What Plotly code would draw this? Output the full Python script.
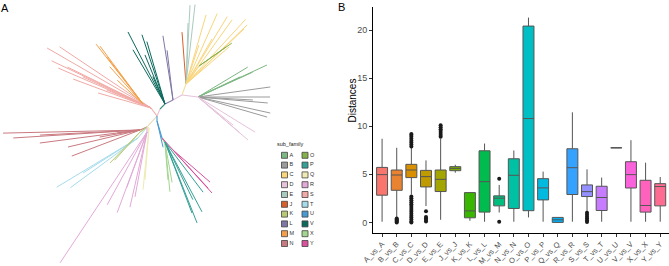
import math
import plotly.graph_objects as go

# ---------------- Panel B data (box statistics) ----------------
categories = ["A_vs_A", "B_vs_B", "C_vs_C", "D_vs_D", "E_vs_E", "J_vs_J", "K_vs_K", "L_vs_L",
              "M_vs_M", "N_vs_N", "O_vs_O", "P_vs_P", "Q_vs_Q", "R_vs_R", "S_vs_S", "T_vs_T",
              "U_vs_U", "V_vs_V", "X_vs_X", "Y_vs_Y"]
lower_whisker = [0.07, 0.52, 2.90, 1.70, 0.27, 5.17, 0.17, 0.07, 1.03, 0.07,
                 0.52, 0.07, 0.00, 0.07, 1.10, 0.07, 7.76, 0.07, 0.07, 0.07]
q1_vals = [2.83, 3.34, 4.66, 3.69, 3.21, 5.38, 0.48, 1.07, 1.72, 1.45,
           1.22, 2.34, 0.00, 2.90, 2.69, 1.24, 7.76, 3.58, 1.07, 1.72]
median_vals = [4.97, 4.93, 5.45, 4.76, 4.48, 5.62, 1.20, 4.24, 2.52, 4.90,
               10.80, 3.59, 0.27, 5.69, 3.20, 2.59, 7.76, 4.97, 1.76, 3.73]
q3_vals = [5.72, 5.45, 6.04, 5.41, 5.45, 5.80, 3.10, 7.45, 2.76, 6.62,
           20.42, 4.55, 0.52, 7.66, 3.90, 3.76, 7.76, 6.31, 4.38, 4.03]
upper_whisker = [8.70, 7.76, 7.75, 6.45, 8.70, 6.00, 3.14, 8.20, 3.90, 7.48,
                 21.30, 5.28, 0.52, 11.45, 5.52, 4.66, 7.76, 8.55, 6.21, 4.72]
outliers = {
    "B_vs_B": [0.0, 0.1, 0.2, 0.3, 0.4],
    "C_vs_C": [7.9, 8.1, 8.3, 8.5, 8.7, 8.9, 9.1, 9.2,
               2.7, 2.5, 2.3, 2.1, 1.9, 1.7, 1.5, 1.3, 1.1, 0.9, 0.7, 0.5, 0.3, 0.1, 0.0],
    "D_vs_D": [1.15, 0.55, 0.4, 0.25, 0.1],
    "E_vs_E": [8.9, 9.1, 9.3, 9.5, 9.7, 9.9, 10.1],
    "M_vs_M": [4.55, 0.07],
    "S_vs_S": [1.0, 0.8, 0.6, 0.4, 0.2, 0.05],
}
y_ticks = [0, 5, 10, 15, 20]
box_colors = ["#F8766D", "#EA8331", "#D89000", "#C09B00", "#A3A500", "#7CAE00", "#39B600",
              "#00BB4E", "#00BF7D", "#00C1A3", "#00BFC4", "#00BAE0", "#00B0F6", "#35A2FF",
              "#9590FF", "#C77CFF", "#E76BF3", "#FA62DB", "#FF62BC", "#FF6C91"]

# ---------------- Panel A data (unrooted tree layout) ----------------
sub_families = ["A", "B", "C", "D", "E", "J", "K", "L", "M", "N",
                "O", "P", "Q", "R", "S", "T", "U", "V", "X", "Y"]
family_colors = {
    "A": "#7DB783", "B": "#9B9B9B", "C": "#F9D57C", "D": "#E5C3DA", "E": "#A8CBBE",
    "J": "#D9602C", "K": "#B7C977", "L": "#7E78A6", "M": "#F4A04A", "N": "#C97A80",
    "O": "#86B04A", "P": "#35A095", "Q": "#EEEBB3", "R": "#E3A9D8", "S": "#F1AAA6",
    "T": "#A5DCEB", "U": "#4A9AD2", "V": "#0C6A5C", "X": "#A3D690", "Y": "#D8529C",
}
tree_nodes = {
    "root": (157, 116), "up1": (160, 109), "nV": (165, 104), "nL": (173, 100),
    "fork": (182, 95), "nCE": (186, 84), "nO": (199, 66), "nABD": (198, 97),
    "nSM": (151, 108), "nM": (143, 104), "left": (147, 127), "nN": (140, 130),
    "nT": (138, 138), "nK": (140, 132), "nR": (147, 132), "nQ": (149, 128),
    "nU": (157, 121), "down": (162, 138), "nP": (165, 142), "nX": (165, 143), "nY": (173, 150),
}
tree_edges = [
    ("root", "up1", "#E6C3CF"), ("up1", "nV", "#3C8F80"), ("nV", "nL", "#8E86B0"),
    ("nL", "fork", "#E6C3DA"), ("fork", "nCE", "#F3DFA0"), ("nCE", "nO", "#F9D57C"),
    ("fork", "nABD", "#E6C3DA"), ("root", "nSM", "#F1AAA6"), ("nSM", "nM", "#F4A04A"),
    ("root", "left", "#E3D6B0"), ("left", "nN", "#C97A80"), ("left", "nT", "#B8DCE0"),
    ("left", "nK", "#B7C977"), ("left", "nR", "#E3A9D8"), ("left", "nQ", "#EEEBB3"),
    ("root", "nU", "#4A9AD2"), ("nU", "down", "#4A9AD2"), ("down", "nP", "#35A095"),
    ("down", "nX", "#A3D690"), ("down", "nY", "#D8529C"),
]
# clade: (attachment node, leaf angles in degrees (counter-clockwise), leaf branch lengths)
clades = {
    "S": ("nSM", [150, 146.2, 154.6, 156.7, 159.6, 164.2, 157.8, 153.9, 155.5],
          [120, 110, 110, 101, 83, 55, 48, 93, 75]),
    "M": ("nM", [128.1, 126.6, 127.5, 131.7, 137.3], [76, 72, 59, 50, 35]),
    "V": ("nV", [117.2, 108.4, 106.2, 120.6, 114, 112.2], [81, 73, 65, 63, 30, 53]),
    "L": ("nL", [98.9, 96.8], [65, 50]),
    "J": ("nCE", [94.4], [52]),
    "E": ("nCE", [87.1, 83.5, 88.1], [79, 80, 61]),
    "C": ("nCE", [73.8, 66.1, 58.5, 54.3, 47.3, 44, 43.5, 40.7, 60, 71.6],
          [72, 77, 79, 79, 88, 85, 80, 57, 52, 41]),
    "O": ("nO", [34.9, 35.1], [40, 33]),
    "A": ("nABD", [31, 24.9, 24.4, 25.5], [58, 76, 60, 47]),
    "B": ("nABD", [7.9, 0, -4.9, -12.5, -16.2, -3.1], [73, 72, 70, 74, 72, 55]),
    "D": ("nABD", [-31.6, -40.7, -40.6, -38.7], [67, 66, 55, 45]),
    "N": ("nN", [181.3, 183.6, 187.4, 193.3, 200.9, 189.9, 187.4, 182.9],
          [137, 127, 101, 74, 73, 41, 23, 100]),
    "T": ("nT", [211.2, 216.3, 212.5], [95, 84, 65]),
    "K": ("nK", [225.9, 228], [43, 38]),
    "R": ("nR", [236.4, 249.7, 257.2, 259.5, 250, 241.3], [157, 86, 77, 66, 59, 83]),
    "Q": ("nQ", [264.5, 265.6], [62, 52]),
    "U": ("nU", [283], [27]),
    "X": ("nX", [275.8, 280.2, 274.6], [49, 40, 37]),
    "P": ("nP", [291.6, 297.9, 307.2, 295.8, 290.8], [87, 79, 63, 64, 76]),
    "Y": ("nY", [319.1, 312.2, 312.6], [49, 58, 52]),
}

FONT = "Liberation Sans, Arial, sans-serif"
fig = go.Figure()

# ---- tree: backbone edges
for p, c, col in tree_edges:
    (x0, y0), (x1, y1) = tree_nodes[p], tree_nodes[c]
    fig.add_trace(go.Scatter(x=[x0, x1], y=[y0, y1], mode="lines",
                             line=dict(color=col, width=1.1), hoverinfo="skip",
                             showlegend=False, xaxis="x", yaxis="y"))
# ---- tree: leaves per sub-family
for fam, (node, angs, lens) in clades.items():
    x0, y0 = tree_nodes[node]
    xs, ys = [], []
    for a, L in zip(angs, lens):
        r = math.radians(a)
        xs += [x0, x0 + L * math.cos(r), None]
        ys += [y0, y0 - L * math.sin(r), None]
    fig.add_trace(go.Scatter(x=xs, y=ys, mode="lines",
                             line=dict(color=family_colors[fam], width=1.0),
                             hoverinfo="skip", showlegend=False, xaxis="x", yaxis="y"))

# ---- tree legend
col1, col2 = sub_families[:10], sub_families[10:]
for colx, fams in ((284.5, col1), (305.0, col2)):
    ys = [155.3 + 9.8 * i for i in range(len(fams))]
    fig.add_trace(go.Scatter(x=[colx] * len(fams), y=ys, mode="markers",
                             marker=dict(symbol="square", size=6,
                                         color=[family_colors[f] for f in fams],
                                         line=dict(color="#444444", width=0.8)),
                             hoverinfo="skip", showlegend=False, xaxis="x", yaxis="y"))
    fig.add_trace(go.Scatter(x=[colx + 5] * len(fams), y=ys, mode="text",
                             text=fams, textposition="middle right",
                             textfont=dict(size=5.5, color="#333333", family=FONT),
                             hoverinfo="skip", showlegend=False, xaxis="x", yaxis="y"))
fig.add_trace(go.Scatter(x=[277], y=[144.5], mode="text", text=["sub_family"],
                         textposition="middle right",
                         textfont=dict(size=5.5, color="#222222", family=FONT),
                         hoverinfo="skip", showlegend=False, xaxis="x", yaxis="y"))

# ---- box plots
for i, cat in enumerate(categories):
    fig.add_trace(go.Box(x=[cat], q1=[q1_vals[i]], median=[median_vals[i]], q3=[q3_vals[i]],
                         lowerfence=[lower_whisker[i]], upperfence=[upper_whisker[i]],
                         fillcolor=box_colors[i], line=dict(color="#555555", width=1),
                         width=0.75, whiskerwidth=0, boxpoints=False,
                         hoverinfo="skip", showlegend=False, xaxis="x2", yaxis="y2"))
ox, oy = [], []
for cat, vals in outliers.items():
    ox += [cat] * len(vals)
    oy += vals
fig.add_trace(go.Scatter(x=ox, y=oy, mode="markers",
                         marker=dict(color="#1a1a1a", size=4), hoverinfo="skip",
                         showlegend=False, xaxis="x2", yaxis="y2"))

W, H = 669, 266
fig.update_layout(
    width=W, height=H, margin=dict(l=0, r=0, t=0, b=0, autoexpand=False),
    paper_bgcolor="white", plot_bgcolor="rgba(0,0,0,0)", hovermode=False,
    font=dict(family=FONT), boxmode="overlay",
    xaxis=dict(domain=[0, 335 / W], range=[0, 335], visible=False, fixedrange=True,
               automargin=False),
    yaxis=dict(domain=[0, 1], range=[266, 0], visible=False, fixedrange=True,
               automargin=False),
    xaxis2=dict(domain=[373.3 / W, 1], type="category", categoryorder="array",
                categoryarray=categories, range=[-0.6, 19.6], showline=True,
                linecolor="black", linewidth=1.2, ticks="outside", ticklen=3,
                tickcolor="#333333", tickangle=-45, showgrid=False, zeroline=False,
                automargin=False, fixedrange=True,
                tickfont=dict(size=7.5, color="#4D4D4D", family=FONT), anchor="y2"),
    yaxis2=dict(domain=[(H - 232.7) / H, (H - 7.3) / H], range=[-1.07, 22.37],
                tickvals=y_ticks, showline=True, linecolor="black", linewidth=1.2,
                ticks="outside", ticklen=3, tickcolor="#333333", showgrid=False,
                zeroline=False, automargin=False, fixedrange=True,
                tickfont=dict(size=9, color="#4D4D4D", family=FONT), anchor="x2"),
    annotations=[
        dict(text="A", x=5 / W, y=1 - 8.5 / H, xref="paper", yref="paper", showarrow=False,
             xanchor="center", yanchor="middle",
             font=dict(size=11, color="black", family=FONT)),
        dict(text="B", x=341.5 / W, y=1 - 7 / H, xref="paper", yref="paper", showarrow=False,
             xanchor="center", yanchor="middle",
             font=dict(size=11, color="black", family=FONT)),
        dict(text="Distances", x=351.5 / W, y=1 - 101 / H, xref="paper", yref="paper",
             showarrow=False, textangle=-90, xanchor="center", yanchor="middle",
             font=dict(size=10, color="black", family=FONT)),
    ],
)
fig.write_html("out.html", config={"displayModeBar": False, "staticPlot": True},
               post_script="document.body.style.margin='0';document.body.style.padding='0';")
